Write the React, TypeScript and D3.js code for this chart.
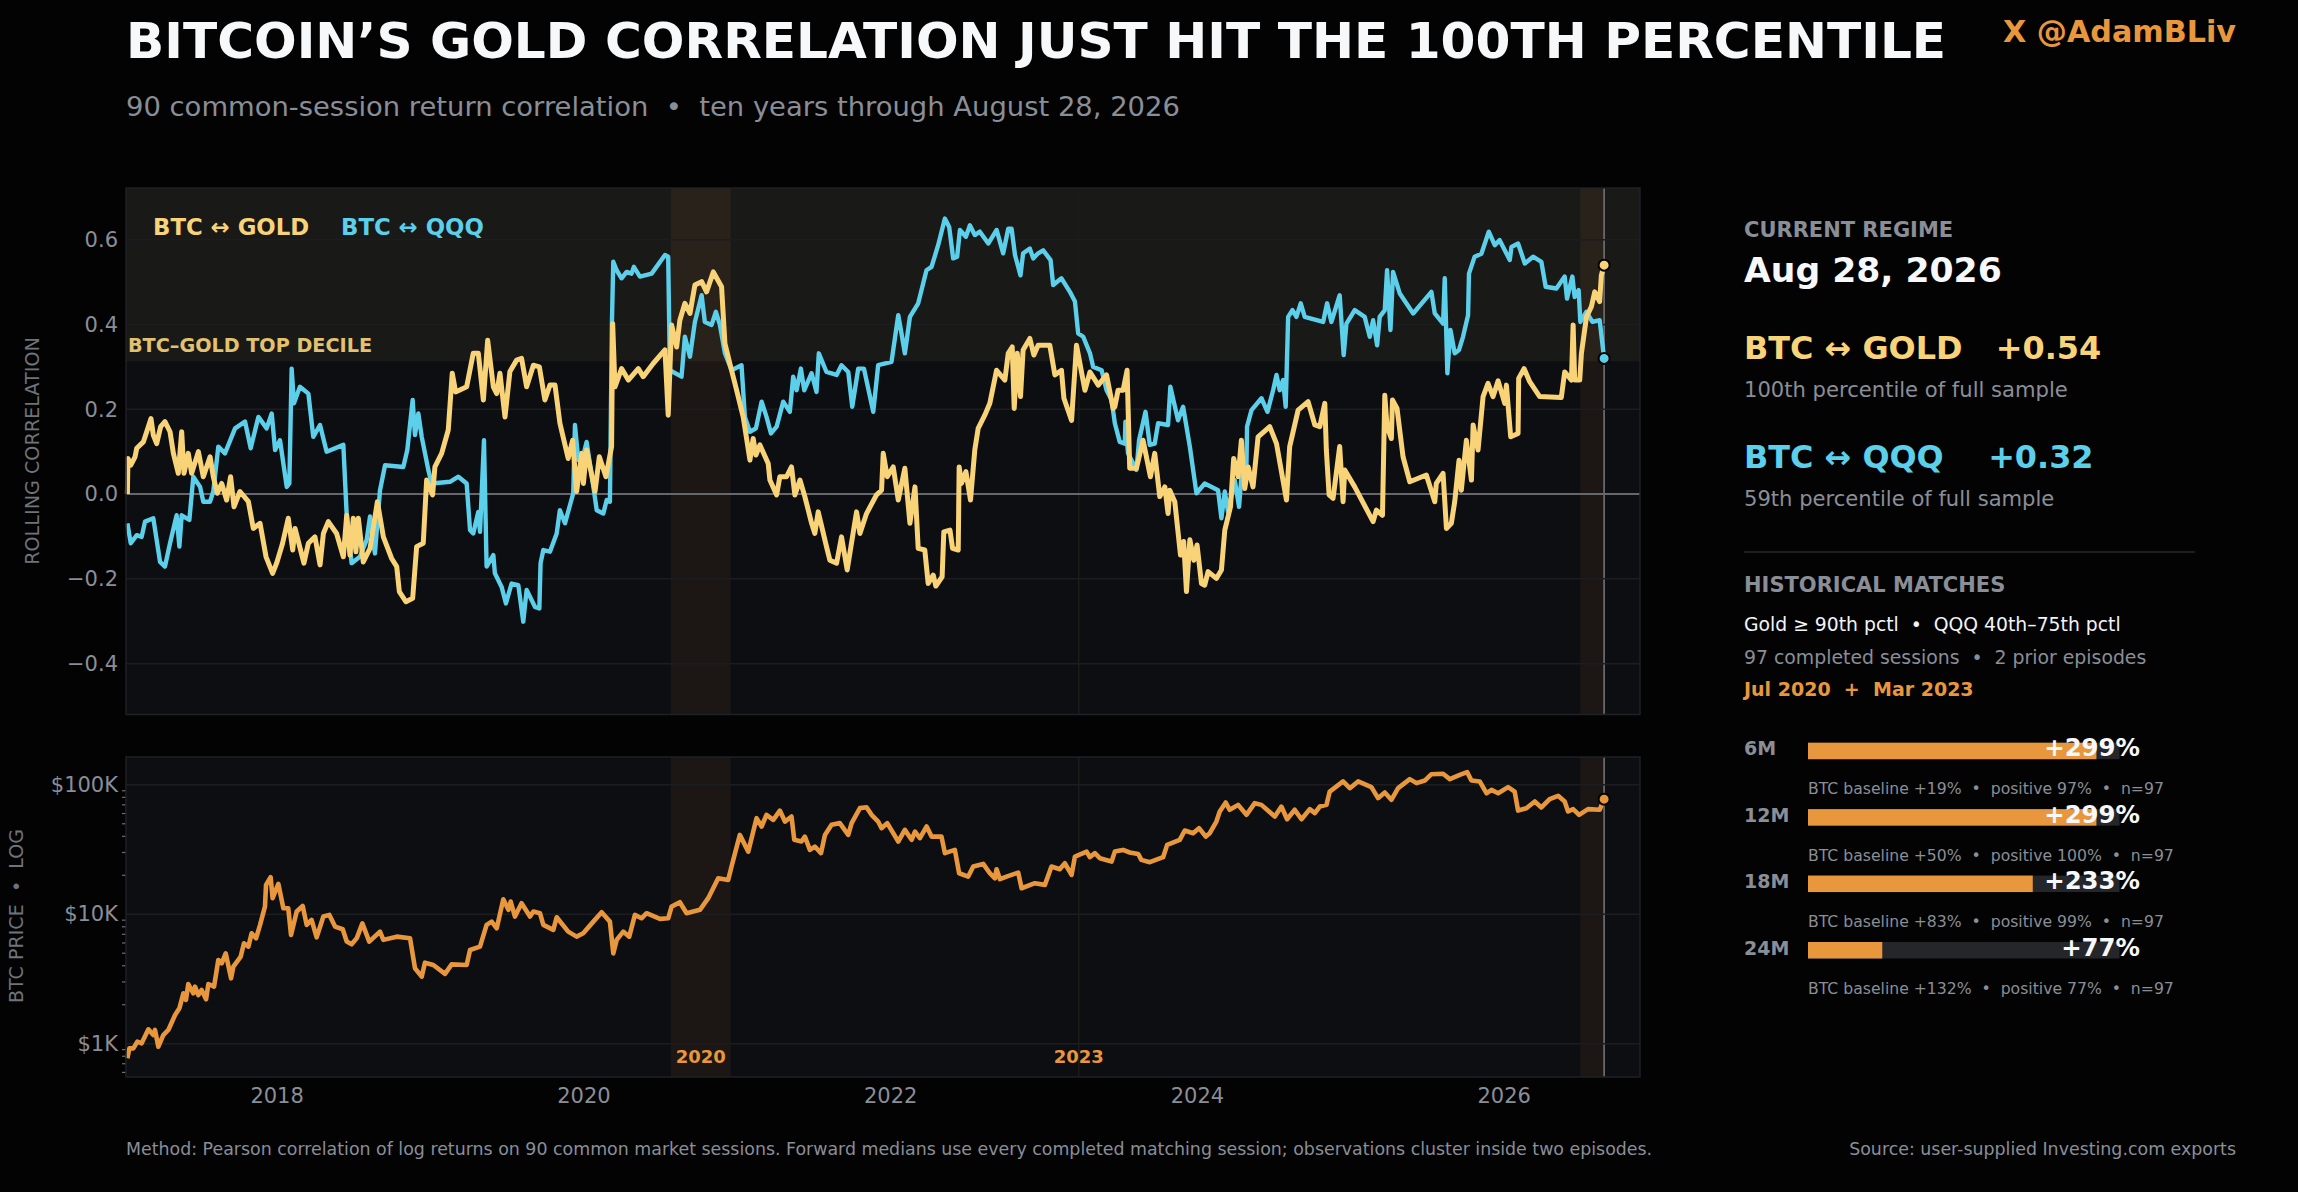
import * as d3 from "d3";
import { useEffect, useRef } from "react";

// [fractional year, correlation]
const goldCorr: [number, number][] = [
	[2017.027,0],[2017.031,.084],[2017.049,.068],[2017.077,.088],[2017.088,.108],[2017.131,.123],[2017.153,.147],[2017.181,.178],[2017.196,.139],[2017.218,.119],[2017.244,.159],[2017.272,.171],[2017.305,.147],[2017.327,.096],[2017.359,.049],[2017.381,.147],[2017.396,.049],[2017.424,.096],[2017.446,.049],[2017.49,.1],[2017.522,.041],[2017.566,.088],[2017.587,.041],[2017.613,.002],[2017.642,.025],[2017.674,-.014],[2017.7,.041],[2017.722,-.03],[2017.761,.006],[2017.816,-.018],[2017.848,-.081],[2017.892,-.069],[2017.931,-.148],[2017.974,-.187],[2018,-.163],[2018.039,-.116],[2018.076,-.057],[2018.105,-.132],[2018.12,-.081],[2018.178,-.163],[2018.207,-.116],[2018.25,-.101],[2018.283,-.167],[2018.305,-.093],[2018.337,-.065],[2018.391,-.093],[2018.435,-.148],[2018.457,-.05],[2018.478,-.144],[2018.5,-.057],[2018.517,-.136],[2018.533,-.057],[2018.565,-.16],[2018.609,-.128],[2018.657,-.018],[2018.696,-.101],[2018.75,-.152],[2018.783,-.171],[2018.8,-.23],[2018.843,-.254],[2018.887,-.246],[2018.913,-.124],[2018.956,-.116],[2018.978,.033],[2019.017,-.002],[2019.032,.064],[2019.076,.096],[2019.119,.151],[2019.145,.285],[2019.167,.241],[2019.239,.253],[2019.282,.332],[2019.315,.332],[2019.348,.222],[2019.376,.363],[2019.413,.253],[2019.435,.237],[2019.456,.285],[2019.489,.182],[2019.521,.289],[2019.565,.316],[2019.597,.32],[2019.63,.253],[2019.674,.304],[2019.713,.3],[2019.749,.222],[2019.782,.257],[2019.815,.257],[2019.847,.167],[2019.901,.084],[2019.93,.127],[2019.956,.006],[2019.989,.096],[2020,.025],[2020.021,.104],[2020.076,.006],[2020.104,.088],[2020.147,.041],[2020.184,.112],[2020.191,.402],[2020.206,.253],[2020.249,.296],[2020.293,.269],
	[2020.358,.296],[2020.39,.277],[2020.455,.308],[2020.532,.34],[2020.553,.186],[2020.575,.399],[2020.608,.347],[2020.629,.41],[2020.662,.45],[2020.695,.426],[2020.727,.493],[2020.771,.501],[2020.803,.477],[2020.847,.524],[2020.901,.489],[2020.923,.355],[2020.955,.308],[2020.999,.245],[2021.042,.182],[2021.086,.08],[2021.107,.131],[2021.125,.092],[2021.151,.116],[2021.205,.072],[2021.216,.033],[2021.26,-.002],[2021.281,.041],[2021.325,.041],[2021.357,.064],[2021.379,-.002],[2021.412,.033],[2021.444,-.006],[2021.488,-.069],[2021.509,-.093],[2021.531,-.042],[2021.585,-.124],[2021.607,-.156],[2021.651,-.163],[2021.683,-.101],[2021.72,-.179],[2021.781,-.042],[2021.803,-.093],[2021.846,-.046],[2021.911,-.002],[2021.944,.009],[2021.955,.096],[2021.981,.041],[2022.02,.064],[2022.053,-.014],[2022.096,.061],[2022.129,-.069],[2022.162,.017],[2022.183,-.128],[2022.226,-.132],[2022.248,-.211],[2022.281,-.191],[2022.298,-.217],[2022.339,-.195],[2022.35,-.089],[2022.39,-.085],[2022.407,-.128],[2022.444,-.132],[2022.45,.064],[2022.465,.025],[2022.494,.053],[2022.524,-.014],[2022.552,.104],[2022.574,.155],[2022.617,.186],[2022.65,.214],[2022.694,.292],[2022.748,.269],[2022.77,.332],[2022.796,.347],[2022.809,.202],[2022.829,.332],[2022.85,.23],[2022.867,.34],[2022.911,.367],[2022.937,.328],[2022.965,.351],[2023.041,.351],[2023.074,.281],[2023.117,.292],[2023.133,.226],[2023.183,.174],[2023.215,.351],[2023.27,.245],[2023.303,.288],[2023.357,.257],[2023.411,.281],[2023.454,.202],
	[2023.465,.206],[2023.486,.245],[2023.519,.245],[2023.545,.292],[2023.562,.061],[2023.606,.061],[2023.649,.127],[2023.697,.041],[2023.725,.096],[2023.758,-.006],[2023.791,.017],[2023.812,-.046],[2023.823,.009],[2023.856,-.018],[2023.893,-.144],[2023.914,-.112],[2023.932,-.23],[2023.954,-.108],[2023.98,-.156],[2024.001,-.12],[2024.03,-.211],[2024.051,-.215],[2024.073,-.183],[2024.127,-.199],[2024.16,-.179],[2024.182,-.085],[2024.219,-.03],[2024.24,.084],[2024.269,.041],[2024.29,.127],[2024.312,.013],[2024.334,.064],[2024.366,.017],[2024.399,.135],[2024.475,.159],[2024.519,.119],[2024.584,-.014],[2024.605,.112],[2024.66,.198],[2024.725,.218],[2024.769,.163],[2024.801,.159],[2024.834,.214],[2024.844,.104],[2024.862,-.002],[2024.888,-.01],[2024.931,.112],[2024.953,-.018],[2024.964,.057],[2025.029,.017],[2025.149,-.065],[2025.17,-.038],[2025.21,-.05],[2025.225,.233],[2025.24,.159],[2025.268,.131],[2025.275,.222],[2025.305,.202],[2025.344,.088],[2025.388,.029],[2025.496,.045],[2025.551,-.018],[2025.561,.025],[2025.605,.049],[2025.627,-.081],[2025.659,-.069],[2025.681,-.018],[2025.709,.08],[2025.724,.009],[2025.757,.127],[2025.79,.033],[2025.801,.163],[2025.833,.104],[2025.866,.23],[2025.898,.261],[2025.931,.23],[2025.964,.267],[2026.007,.214],[2026.018,.257],[2026.046,.135],[2026.094,.143],[2026.098,.273],[2026.133,.296],[2026.17,.265],[2026.235,.23],[2026.376,.228],[2026.398,.288],[2026.442,.269],[2026.453,.399],[2026.463,.269],[2026.496,.269],[2026.507,.332],[2026.54,.418],[2026.572,.442],[2026.594,.477],[2026.626,.454],[2026.637,.516],[2026.655,.54],
];

const qqqCorr: [number, number][] = [
	[2017.027,-.069],[2017.049,-.116],[2017.088,-.097],[2017.12,-.101],[2017.142,-.065],[2017.196,-.057],[2017.24,-.16],[2017.272,-.171],[2017.305,-.116],[2017.348,-.05],[2017.366,-.124],[2017.381,-.05],[2017.431,-.061],[2017.457,.041],[2017.501,.017],[2017.522,-.018],[2017.566,-.018],[2017.587,.006],[2017.62,.112],[2017.663,.096],[2017.729,.155],[2017.794,.171],[2017.831,.108],[2017.881,.182],[2017.935,.155],[2017.968,.19],[2017.99,.104],[2018.022,.127],[2018.066,.017],[2018.083,.025],[2018.098,.296],[2018.113,.214],[2018.152,.253],[2018.207,.237],[2018.239,.135],[2018.283,.163],[2018.326,.1],[2018.435,.116],[2018.457,-.05],[2018.489,-.163],[2018.543,-.148],[2018.587,-.108],[2018.609,-.053],[2018.641,-.14],[2018.674,.009],[2018.707,.068],[2018.826,.064],[2018.852,.104],[2018.887,.222],[2018.902,.139],[2018.924,.19],[2018.946,.135],[2018.989,.057],[2019.011,.025],[2019.13,.029],[2019.185,.041],[2019.239,.025],[2019.261,-.085],[2019.282,-.093],[2019.315,-.042],[2019.326,-.089],[2019.352,.127],[2019.369,-.171],[2019.413,-.144],[2019.423,-.187],[2019.467,-.219],[2019.495,-.258],[2019.532,-.211],[2019.576,-.215],[2019.608,-.301],[2019.63,-.226],[2019.684,-.266],[2019.713,-.27],[2019.721,-.163],[2019.739,-.132],[2019.782,-.136],[2019.826,-.093],[2019.847,-.038],[2019.88,-.069],[2019.934,.002],[2019.945,.163],[2019.967,.08],[2019.989,.076],[2020.021,.123],[2020.054,.045],[2020.087,-.038],[2020.13,-.046],[2020.152,-.014],[2020.173,-.018],[2020.186,.402],[2020.195,.548],[2020.217,.528],[2020.249,.509],[2020.282,.524],
	[2020.314,.52],[2020.329,.536],[2020.369,.513],[2020.445,.52],[2020.532,.564],[2020.553,.56],[2020.564,.292],[2020.64,.277],[2020.662,.371],[2020.695,.324],[2020.727,.406],[2020.771,.469],[2020.792,.406],[2020.836,.399],[2020.864,.43],[2020.89,.399],[2020.923,.332],[2020.966,.292],[2021.031,.304],[2021.053,.182],[2021.086,.147],[2021.125,.155],[2021.162,.218],[2021.194,.182],[2021.223,.143],[2021.26,.159],[2021.303,.218],[2021.346,.194],[2021.368,.277],[2021.39,.245],[2021.418,.296],[2021.44,.245],[2021.488,.285],[2021.52,.241],[2021.535,.332],[2021.585,.288],[2021.651,.281],[2021.683,.304],[2021.727,.288],[2021.753,.206],[2021.792,.296],[2021.829,.296],[2021.89,.194],[2021.922,.304],[2022.009,.312],[2022.053,.422],[2022.074,.379],[2022.096,.332],[2022.129,.418],[2022.183,.45],[2022.237,.528],[2022.27,.536],[2022.313,.587],[2022.357,.65],[2022.385,.63],[2022.411,.556],[2022.437,.56],[2022.455,.623],[2022.494,.607],[2022.52,.634],[2022.552,.611],[2022.585,.619],[2022.64,.591],[2022.694,.623],[2022.737,.568],[2022.77,.626],[2022.792,.626],[2022.814,.564],[2022.85,.516],[2022.867,.568],[2022.911,.579],[2022.933,.556],[2022.965,.568],[2022.998,.575],[2023.046,.552],[2023.063,.493],[2023.117,.509],[2023.172,.477],[2023.205,.454],[2023.226,.379],[2023.259,.371],[2023.303,.332],[2023.324,.3],[2023.379,.292],[2023.411,.245],[2023.444,.222],
	[2023.465,.167],[2023.497,.123],[2023.53,.119],[2023.534,.171],[2023.551,.096],[2023.606,.057],[2023.623,.127],[2023.665,.194],[2023.693,.116],[2023.725,.119],[2023.747,.167],[2023.812,.163],[2023.827,.253],[2023.877,.174],[2023.91,.206],[2023.954,.112],[2023.997,.002],[2024.051,.025],[2024.138,.009],[2024.16,-.057],[2024.182,.006],[2024.203,-.042],[2024.247,.033],[2024.275,-.03],[2024.29,.041],[2024.323,.064],[2024.327,.159],[2024.356,.198],[2024.421,.226],[2024.46,.194],[2024.497,.245],[2024.519,.281],[2024.54,.245],[2024.562,.269],[2024.579,.206],[2024.595,.418],[2024.623,.434],[2024.649,.418],[2024.677,.45],[2024.703,.418],[2024.823,.406],[2024.849,.45],[2024.877,.406],[2024.931,.469],[2024.957,.328],[2024.975,.402],[2025.029,.434],[2025.094,.418],[2025.127,.371],[2025.149,.41],[2025.175,.351],[2025.192,.418],[2025.225,.434],[2025.24,.528],[2025.262,.387],[2025.279,.524],[2025.323,.473],[2025.41,.426],[2025.529,.477],[2025.551,.426],[2025.605,.402],[2025.616,.509],[2025.633,.285],[2025.653,.387],[2025.681,.332],[2025.709,.34],[2025.735,.371],[2025.768,.422],[2025.774,.52],[2025.811,.56],[2025.855,.567],[2025.903,.619],[2025.942,.587],[2025.974,.599],[2026.04,.552],[2026.051,.583],[2026.094,.591],[2026.138,.544],[2026.192,.56],[2026.246,.548],[2026.274,.489],[2026.344,.485],[2026.398,.513],[2026.413,.461],[2026.448,.513],[2026.463,.465],[2026.489,.481],[2026.5,.406],[2026.539,.43],[2026.579,.406],[2026.626,.41],[2026.655,.32],
];

// [fractional year, log10 of BTC price]
const btcLog: [number, number][] = [
	[2017.027,2.887],[2017.04,2.964],[2017.066,2.964],[2017.092,3.016],[2017.12,3.003],[2017.164,3.111],[2017.196,3.067],[2017.207,3.106],[2017.229,2.977],[2017.261,3.067],[2017.294,3.106],[2017.338,3.222],[2017.366,3.273],[2017.392,3.389],[2017.409,3.338],[2017.424,3.461],[2017.457,3.389],[2017.468,3.441],[2017.49,3.376],[2017.511,3.415],[2017.54,3.343],[2017.555,3.461],[2017.592,3.441],[2017.62,3.647],[2017.642,3.621],[2017.668,3.698],[2017.703,3.505],[2017.718,3.595],[2017.766,3.673],[2017.787,3.776],[2017.816,3.75],[2017.837,3.853],[2017.866,3.814],[2017.892,3.918],[2017.924,4.059],[2017.931,4.227],[2017.961,4.286],[2017.974,4.124],[2018.011,4.235],[2018.044,4.046],[2018.076,4.046],[2018.094,3.84],[2018.131,4.021],[2018.17,4.064],[2018.196,3.918],[2018.228,3.956],[2018.261,3.822],[2018.305,3.982],[2018.344,3.995],[2018.381,3.905],[2018.431,3.884],[2018.457,3.789],[2018.489,3.768],[2018.522,3.814],[2018.559,3.93],[2018.604,3.789],[2018.674,3.866],[2018.696,3.802],[2018.783,3.827],[2018.87,3.814],[2018.902,3.583],[2018.946,3.518],[2018.967,3.626],[2019.022,3.608],[2019.098,3.539],[2019.141,3.613],[2019.239,3.608],[2019.261,3.724],[2019.326,3.75],[2019.369,3.918],[2019.402,3.943],[2019.435,3.892],[2019.478,4.116],[2019.511,4.034],[2019.526,4.098],[2019.554,3.982],[2019.597,4.085],[2019.652,3.982],[2019.674,4.021],[2019.717,4.008],[2019.739,3.918],[2019.804,3.879],[2019.826,3.977],[2019.901,3.866],[2019.956,3.827],[2019.999,3.853],[2020.065,3.943],[2020.119,4.015],[2020.173,3.943],[2020.195,3.698],[2020.217,3.802],[2020.26,3.866],[2020.299,3.827],
	[2020.336,3.995],[2020.379,3.969],[2020.412,4.008],[2020.499,3.964],[2020.553,3.969],[2020.575,4.059],[2020.629,4.093],[2020.673,4.008],[2020.76,4.034],[2020.814,4.124],[2020.879,4.278],[2020.944,4.265],[2020.966,4.369],[2021.02,4.613],[2021.075,4.484],[2021.129,4.742],[2021.162,4.678],[2021.194,4.768],[2021.238,4.729],[2021.281,4.801],[2021.314,4.716],[2021.357,4.755],[2021.375,4.575],[2021.422,4.562],[2021.444,4.6],[2021.477,4.497],[2021.509,4.523],[2021.549,4.472],[2021.575,4.613],[2021.618,4.691],[2021.672,4.704],[2021.727,4.613],[2021.749,4.704],[2021.803,4.82],[2021.846,4.827],[2021.879,4.768],[2021.922,4.716],[2021.944,4.665],[2021.981,4.704],[2022.053,4.562],[2022.096,4.652],[2022.14,4.575],[2022.162,4.639],[2022.194,4.588],[2022.238,4.678],[2022.27,4.6],[2022.335,4.6],[2022.357,4.472],[2022.422,4.497],[2022.45,4.317],[2022.509,4.291],[2022.542,4.369],[2022.607,4.389],[2022.65,4.317],[2022.683,4.278],[2022.694,4.348],[2022.716,4.271],[2022.759,4.291],[2022.835,4.322],[2022.857,4.201],[2022.944,4.24],[2023.009,4.227],[2023.052,4.369],[2023.106,4.348],[2023.139,4.394],[2023.183,4.304],[2023.205,4.446],[2023.281,4.484],[2023.302,4.441],[2023.335,4.472],[2023.367,4.433],[2023.444,4.407],[2023.465,4.484],[2023.498,4.492],
	[2023.519,4.497],[2023.562,4.477],[2023.617,4.466],[2023.638,4.42],[2023.693,4.402],[2023.78,4.441],[2023.806,4.536],[2023.888,4.575],[2023.921,4.647],[2023.975,4.626],[2024.014,4.665],[2024.058,4.6],[2024.084,4.626],[2024.127,4.716],[2024.149,4.794],[2024.188,4.863],[2024.214,4.807],[2024.269,4.845],[2024.323,4.768],[2024.377,4.858],[2024.421,4.845],[2024.508,4.755],[2024.551,4.832],[2024.588,4.734],[2024.638,4.807],[2024.682,4.734],[2024.736,4.812],[2024.769,4.781],[2024.801,4.832],[2024.845,4.845],[2024.866,4.948],[2024.953,5.026],[2024.997,4.974],[2025.051,5.026],[2025.138,4.982],[2025.181,4.897],[2025.225,4.941],[2025.268,4.884],[2025.312,4.974],[2025.388,5.044],[2025.432,5.013],[2025.486,5.033],[2025.529,5.082],[2025.605,5.085],[2025.649,5.044],[2025.714,5.077],[2025.762,5.098],[2025.79,5.033],[2025.844,5.026],[2025.888,4.935],[2025.921,4.961],[2025.964,4.935],[2026.029,4.982],[2026.072,4.948],[2026.094,4.801],[2026.148,4.819],[2026.203,4.871],[2026.246,4.825],[2026.3,4.889],[2026.355,4.915],[2026.398,4.871],[2026.42,4.794],[2026.453,4.812],[2026.492,4.768],[2026.55,4.812],[2026.626,4.807],[2026.655,4.889],
];

const yearTicks = [2018, 2020, 2022, 2024, 2026];
const corrTicks = [-0.4, -0.2, 0, 0.2, 0.4, 0.6];
const priceTicks = [1000, 10000, 100000];
const priceLabels = ["$1K", "$10K", "$100K"];
const topDecile = 0.313;
const episodes = [
	{ label: "2020", start: 2020.57, end: 2020.96 },
	{ label: "2023", start: 2023.23, end: 2023.23 },
	{ label: "", start: 2026.5, end: 2026.655 },
];

const horizons = ["6M", "12M", "18M", "24M"];
const forwardMedian = [299, 299, 233, 77];
const baseline = [19, 50, 83, 132];
const positiveShare = [97, 100, 99, 77];
const sampleSize = 97;

const BG = "#030304";
const PANEL = "#0c0e12";
const GOLD = "#f8d378";
const BLUE = "#5ccfea";
const ORANGE = "#e9973c";
const MUTED = "#8a8e96";
const GRID = "#1b1d21";
const FONT = "'DejaVu Sans', sans-serif";

export default function App() {
	const svgRef = useRef<SVGSVGElement>(null);

	useEffect(() => {
		if (!svgRef.current) return;
		document.body.style.margin = "0";
		document.body.style.background = BG;

		const svg = d3.select(svgRef.current);
		svg.selectAll("*").remove();

		const left = 126;
		const right = 1640;
		const x = d3.scaleLinear().domain([2017.018, 2026.889]).range([left, right]);

		const topY = d3.scaleLinear().domain([-0.52, 0.722]).range([714.5, 188]);
		const priceY = d3.scaleLog().domain([553, 164000]).range([1077, 757]);

		const text = (
			tx: number,
			ty: number,
			str: string,
			size: number,
			fill: string,
			weight: string | number = "normal",
			anchor = "start",
		) =>
			svg
				.append("text")
				.attr("x", tx)
				.attr("y", ty)
				.attr("font-family", FONT)
				.attr("font-size", size)
				.attr("font-weight", weight)
				.attr("fill", fill)
				.attr("text-anchor", anchor)
				.style("white-space", "pre")
				.text(str);

		// Panels
		const panel = (y0: number, y1: number) => {
			const g = svg.append("g");
			g.append("rect")
				.attr("x", left)
				.attr("y", y0)
				.attr("width", right - left)
				.attr("height", y1 - y0)
				.attr("fill", PANEL);
			return g;
		};
		const corrPanel = panel(topY.range()[1], topY.range()[0]);
		const pricePanel = panel(priceY.range()[1], priceY.range()[0]);

		// Top decile band
		corrPanel
			.append("rect")
			.attr("x", left)
			.attr("y", topY(0.722))
			.attr("width", right - left)
			.attr("height", topY(topDecile) - topY(0.722))
			.attr("fill", GOLD)
			.attr("opacity", 0.055);

		// Episode bands and the thin 2023 marker
		[corrPanel, pricePanel].forEach((g, i) => {
			const [y1, y0] = i === 0 ? topY.range() : priceY.range();
			episodes.forEach((e) => {
				if (e.end > e.start) {
					g.append("rect")
						.attr("x", x(e.start))
						.attr("y", y0)
						.attr("width", x(e.end) - x(e.start))
						.attr("height", y1 - y0)
						.attr("fill", ORANGE)
						.attr("opacity", 0.075);
				} else {
					g.append("line")
						.attr("x1", x(e.start))
						.attr("x2", x(e.start))
						.attr("y1", y0)
						.attr("y2", y1)
						.attr("stroke", "#1d1c1b")
						.attr("stroke-width", 1.5);
				}
			});

			// Current date marker
			g.append("line")
				.attr("x1", x(2026.655))
				.attr("x2", x(2026.655))
				.attr("y1", y0)
				.attr("y2", y1)
				.attr("stroke", "#77777a")
				.attr("stroke-width", 1.5);
		});

		// Horizontal grids
		corrTicks.forEach((t) => {
			corrPanel
				.append("line")
				.attr("x1", left)
				.attr("x2", right)
				.attr("y1", topY(t))
				.attr("y2", topY(t))
				.attr("stroke", t === 0 ? "#66676c" : GRID)
				.attr("stroke-width", t === 0 ? 2 : 1.5);
		});
		priceTicks.forEach((t) => {
			pricePanel
				.append("line")
				.attr("x1", left)
				.attr("x2", right)
				.attr("y1", priceY(t))
				.attr("y2", priceY(t))
				.attr("stroke", GRID)
				.attr("stroke-width", 1.5);
		});

		// Axes
		const corrAxis = svg
			.append("g")
			.attr("transform", `translate(${left},0)`)
			.call(
				d3
					.axisLeft(topY)
					.tickValues(corrTicks)
					.tickSize(0)
					.tickPadding(8)
					.tickFormat((d) => d3.format(".1f")(d as number).replace("-", "−")),
			);
		const priceAxis = svg
			.append("g")
			.attr("transform", `translate(${left},0)`)
			.call(
				d3
					.axisLeft(priceY)
					.tickValues(priceTicks)
					.tickSize(0)
					.tickPadding(8)
					.tickFormat((_d, i) => priceLabels[i]),
			);
		const yearAxis = svg
			.append("g")
			.attr("transform", `translate(0,${priceY.range()[0]})`)
			.call(d3.axisBottom(x).tickValues(yearTicks).tickSize(0).tickPadding(11).tickFormat(d3.format("d")));
		[corrAxis, priceAxis, yearAxis].forEach((a) => {
			a.select(".domain").remove();
			a.selectAll("text").attr("font-family", FONT).attr("font-size", 21).attr("fill", MUTED);
		});

		// Minor log ticks
		const minorTicks = priceY.ticks(40).filter((t) => !priceTicks.includes(t));
		svg
			.append("g")
			.selectAll("line")
			.data(minorTicks)
			.enter()
			.append("line")
			.attr("x1", left - 4)
			.attr("x2", left)
			.attr("y1", (d) => priceY(d))
			.attr("y2", (d) => priceY(d))
			.attr("stroke", "#6c6f75")
			.attr("stroke-width", 1.2);

		// Lines
		const corrLine = d3
			.line<[number, number]>()
			.x((d) => x(d[0]))
			.y((d) => topY(d[1]));
		const priceLine = d3
			.line<[number, number]>()
			.x((d) => x(d[0]))
			.y((d) => priceY(Math.pow(10, d[1])));

		const drawLine = (d: string | null, color: string, w: number) =>
			svg
				.append("path")
				.attr("d", d)
				.attr("fill", "none")
				.attr("stroke", color)
				.attr("stroke-width", w)
				.attr("stroke-linejoin", "round");
		drawLine(corrLine(qqqCorr), BLUE, 4.4);
		drawLine(corrLine(goldCorr), GOLD, 5);
		drawLine(priceLine(btcLog), ORANGE, 4.6);

		// End dots
		const dot = (cy: number, color: string) =>
			svg
				.append("circle")
				.attr("cx", x(2026.655))
				.attr("cy", cy)
				.attr("r", 5.5)
				.attr("fill", color)
				.attr("stroke", "#050505")
				.attr("stroke-width", 2);
		dot(topY(goldCorr[goldCorr.length - 1][1]), GOLD);
		dot(topY(qqqCorr[qqqCorr.length - 1][1]), BLUE);
		dot(priceY(Math.pow(10, btcLog[btcLog.length - 1][1])), ORANGE);

		// Header
		text(126, 58, "BITCOIN’S GOLD CORRELATION JUST HIT THE 100TH PERCENTILE", 50.2, "#f7f8fa", "bold");
		text(2236, 42, "X @AdamBLiv", 30.2, ORANGE, "bold", "end");
		text(126, 116, "90 common-session return correlation  •  ten years through August 28, 2026", 27.4, MUTED);

		// In-chart labels
		text(153, 235, "BTC ↔ GOLD", 22.8, GOLD, "bold");
		text(341, 235, "BTC ↔ QQQ", 22.8, BLUE, "bold");
		text(128, 352, "BTC–GOLD TOP DECILE", 19.2, "#e3c26f", "bold");
		episodes
			.filter((e) => e.label)
			.forEach((e) => {
				text(x((e.start + e.end) / 2), 1063, e.label, 18, ORANGE, "bold", "middle");
			});

		// Axis titles
		text(0, 0, "ROLLING CORRELATION", 19.2, "#6f737a", "normal", "middle").attr(
			"transform",
			"translate(39,451) rotate(-90)",
		);
		text(0, 0, "BTC PRICE  •  LOG", 19.1, "#6f737a", "normal", "middle").attr(
			"transform",
			"translate(23,916) rotate(-90)",
		);

		// Side panel
		const sx = 1744;
		text(sx, 237, "CURRENT REGIME", 21, MUTED, "bold");
		text(sx, 282, "Aug 28, 2026", 34.6, "#f7f8fa", "bold");
		text(sx, 359, "BTC ↔ GOLD   +0.54", 31.9, GOLD, "bold");
		text(sx, 397, "100th percentile of full sample", 21.1, MUTED);
		text(sx, 468, "BTC ↔ QQQ    +0.32", 31.9, BLUE, "bold");
		text(sx, 506, "59th percentile of full sample", 21.1, MUTED);
		svg
			.append("line")
			.attr("x1", sx)
			.attr("x2", 2195)
			.attr("y1", 552)
			.attr("y2", 552)
			.attr("stroke", "#26282c")
			.attr("stroke-width", 1.5);
		text(sx, 592, "HISTORICAL MATCHES", 21, MUTED, "bold");
		text(sx, 631, "Gold ≥ 90th pctl  •  QQQ 40th–75th pctl", 18.8, "#f2f3f5");
		text(sx, 664, "97 completed sessions  •  2 prior episodes", 18.85, MUTED);
		text(sx, 696, "Jul 2020  +  Mar 2023", 19, ORANGE, "bold");

		// Forward return bars
		const barX = d3
			.scaleLinear()
			.domain([0, (d3.max(forwardMedian) as number) * 1.08])
			.range([1808, 2119.5]);
		const rowY = d3.scalePoint<string>().domain(horizons).range([742.7, 942]);
		horizons.forEach((h, i) => {
			const y = rowY(h) as number;
			svg
				.append("rect")
				.attr("x", barX(0))
				.attr("y", y)
				.attr("width", barX.range()[1] - barX(0))
				.attr("height", 16.5)
				.attr("fill", "#25262a");
			svg
				.append("rect")
				.attr("x", barX(0))
				.attr("y", y)
				.attr("width", barX(forwardMedian[i]) - barX(0))
				.attr("height", 16.5)
				.attr("fill", ORANGE);
			text(sx, y + 12.5, h, 19, MUTED, "bold");
			text(2140, y + 13.5, `+${forwardMedian[i]}%`, 24.4, "#f7f8fa", "bold", "end");
			text(
				barX(0),
				y + 51.5,
				`BTC baseline +${baseline[i]}%  •  positive ${positiveShare[i]}%  •  n=${sampleSize}`,
				15.65,
				MUTED,
			);
		});

		// Footer
		text(
			126,
			1155,
			"Method: Pearson correlation of log returns on 90 common market sessions. Forward medians use every completed matching session; observations cluster inside two episodes.",
			17.4,
			MUTED,
		);
		text(2236, 1155, "Source: user-supplied Investing.com exports", 17.4, MUTED, "normal", "end");

		// Panel borders on top
		[topY.range(), priceY.range()].forEach(([y1, y0]) => {
			svg
				.append("rect")
				.attr("x", left)
				.attr("y", y0)
				.attr("width", right - left)
				.attr("height", y1 - y0)
				.attr("fill", "none")
				.attr("stroke", "#1f2126")
				.attr("stroke-width", 1.5);
		});
	}, []);

	return (
		<svg
			ref={svgRef}
			width={2298}
			height={1192}
			viewBox="0 0 2298 1192"
			style={{ display: "block", background: BG }}
		/>
	);
}
